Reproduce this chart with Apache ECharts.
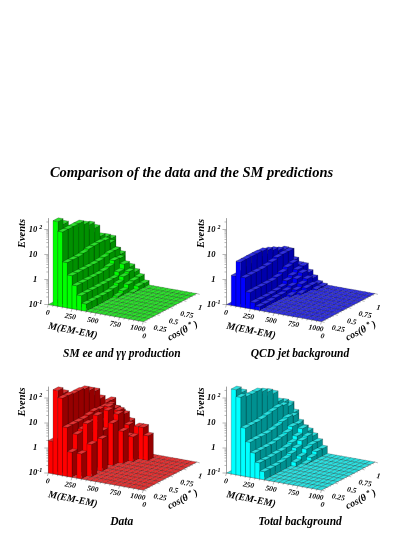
<!DOCTYPE html>
<html><head><meta charset="utf-8">
<style>html,body{margin:0;padding:0;background:#fff;overflow:hidden}#c{width:415px;height:537px}</style>
<script src="https://cdn.jsdelivr.net/npm/echarts@6/dist/echarts.min.js"></script>
</head><body><div id="c"></div>
<script>
const chartTitle = 'Comparison of the data and the SM predictions';
const panelTitles = ['SM ee and γγ production', 'QCD jet background', 'Data', 'Total background'];
const mTicks = [0, 250, 500, 750, 1000];
const cosTicks = [0, 0.25, 0.5, 0.75, 1];
const zMajor = [0.1, 1, 10, 100];
const zMinor = [0.2,0.3,0.4,0.5,0.6,0.7,0.8,0.9,2,3,4,5,6,7,8,9,20,30,40,50,60,70,80,90,200];
const mBinWidth = 50, nM = 20, nC = 10;

// rows: M bin (50 GeV), columns: cos bin (0.1)
const smValues = [
 [0,0,0,0,0,0,0,0,0,0],
 [245,150,75,50,40,25,15,8,5,3],
 [100,100,100,100,71,54,31,11,8,5.4],
 [6.5,6.5,6.5,7,8,8.3,8.5,8,5,2],
 [2.1,2.1,2.1,2.1,2.1,2.2,2.4,2.7,2.7,1.5],
 [0.9,0.9,0.9,0.9,0.9,0.95,1.1,1.5,1.4,0.5],
 [0.39,0.39,0.39,0.39,0.39,0.4,0.4,0.57,0.9,0.54],
 [0.195,0.195,0.195,0.195,0.2,0.22,0.28,0.4,0.48,0.37],
 [0,0,0,0,0,0.12,0.15,0.21,0.23,0.25],
 [0,0,0,0,0,0,0,0.11,0.15,0.15]
];
const qcdValues = [
 [0,0,0,0,0,0,0,0,0,0],
 [1.6,1.6,1.7,1.8,2,2,2,1.8,1.5,1.2],
 [6.3,6.3,6.3,6.3,6,5,4,3,2.5,1.7],
 [1.6,1.6,1.6,1.6,1.7,1.9,2.2,2.3,2.3,0.8],
 [0.45,0.45,0.45,0.45,0.45,0.5,0.6,0.75,0.85,0.56],
 [0.19,0.19,0.19,0.19,0.2,0.22,0.3,0.38,0.5,0.55],
 [0.14,0.14,0.14,0.15,0.15,0.17,0.2,0.3,0.4,0.32],
 [0,0,0,0,0,0.12,0.15,0.2,0.25,0.21],
 [0,0,0,0,0,0,0.12,0.15,0.15,0.135],
 [0,0,0,0,0,0,0,0,0.115,0.115]
];
const dataValues = [
 [2,0,0,0,0,0,0,0,0,0],
 [234,140,70,70,70,40,25,12,6,3],
 [123,120,110,110,100,70,50,20,10,10],
 [9,9,9,9,10,11,10,10,9,5],
 [1,4,5,3,6,8,5,9,7,4],
 [0,0,9,3,6,5,15,7,5,2],
 [1,0,0,16,3,15,6,9,5,2],
 [0,2,0,2,0,5,9,0,2,0],
 [0,0,0,0,0,0,2,1,0,0],
 [0,0,0,0,0,0,0,1,2,0],
 [0,0,0,0,0,0,0,0,2,0],
 [0,0,0,0,0,0,0,0,1,0]
];
const totalValues = [
 [0,0,0,0,0,0,0,0,0,0],
 [250,150,80,55,45,30,18,10,6,3],
 [135,110,105,105,80,60,40,15,11,7],
 [8.5,8.5,8.5,9,10,11,12,11,8,3.5],
 [2.5,2.5,2.5,2.5,2.7,3,3.5,4,3.5,1.5],
 [1,1,1,1,1.1,1.2,1.4,1.9,1.8,1],
 [0.44,0.44,0.44,0.46,0.46,0.5,0.6,0.85,1.3,0.8],
 [0.21,0.21,0.21,0.22,0.25,0.3,0.4,0.6,0.7,0.55],
 [0,0,0,0,0,0.15,0.2,0.3,0.35,0.35],
 [0,0,0,0,0,0,0.11,0.15,0.2,0.2]
];
const panelValues = [smValues, qcdValues, dataValues, totalValues];
const palettes = [
 {front:'#00ff00', side:'#009000', top:'#2ce02c'},
 {front:'#0000ff', side:'#0000ac', top:'#3030e0'},
 {front:'#ff0000', side:'#960000', top:'#e43434'},
 {front:'#00ffff', side:'#009090', top:'#2ce0e0'}
];
const origins = [[48.3,304.5],[226.5,304.5],[48.3,473],[226.5,473]];
const serif = '"Liberation Serif","Times New Roman",serif';
const pxDecade = 25, gridW = 170;
const zMax = 275;
const gridH = pxDecade * Math.log10(zMax / 0.1);
const vM = [95, 17], vC = [53.4, -28];

function proj(api, m, c, z) {
  const dx = m / 1000 * vM[0] + c * vC[0];
  const dy = m / 1000 * vM[1] + c * vC[1];
  const zv = Math.pow(10, Math.log10(z) - dy / pxDecade);
  return api.coord([dx, zv]);
}
function poly(points, fill, stroke, lw) {
  return {type:'polygon', shape:{points}, style:{fill, stroke, lineWidth:lw}, silent:true};
}
function line(a, b) {
  return {type:'line', shape:{x1:a[0],y1:a[1],x2:b[0],y2:b[1]}, style:{stroke:'#888',lineWidth:0.6}, silent:true};
}
function txt(p, s, size, rot, extra) {
  return {type:'text', x:p[0], y:p[1], rotation:rot||0, silent:true,
    style:Object.assign({text:s, fill:'#000', font:'italic bold '+size+'px '+serif, align:'center', verticalAlign:'middle'}, extra||{})};
}
const lab = (sz)=>({fontFamily:serif,fontStyle:'italic',fontWeight:'bold',fontSize:sz,color:'#000'});

const grid=[], xAxis=[], yAxis=[], series=[];
panelValues.forEach((vals, k) => {
  const [ox, oy] = origins[k];
  const pal = palettes[k];
  grid.push({left:ox, top:oy-gridH, width:gridW, height:gridH, containLabel:false});
  xAxis.push({gridIndex:k, type:'value', min:0, max:gridW, show:false});
  yAxis.push({gridIndex:k, type:'log', logBase:10, min:0.1, max:zMax, position:'left',
    splitLine:{show:false}, minorTick:{show:false},
    axisLine:{show:true, lineStyle:{color:'#888',width:0.8}},
    axisTick:{show:false},
    axisLabel:{margin:6, color:'#000', showMaxLabel:false, interval:0,
      formatter:(v)=>{
        const e=Math.round(Math.log10(v));
        if(Math.abs(Math.log10(v)-e)>1e-6) return '';
        if(e===0) return '{n|1}{sp| }';
        if(e===1) return '{n|10}{sp| }';
        return '{n|10}{s|'+e+'}';
      },
      rich:{n:Object.assign(lab(8.5),{lineHeight:11}),s:Object.assign(lab(6),{verticalAlign:'top',lineHeight:8,width:5,align:'right'}),sp:{width:5,fontSize:6}}
    }});
  // axes decoration
  const deco=[];
  zMajor.forEach(z=>deco.push(['zM',z]));
  zMinor.forEach(z=>deco.push(['zm',z]));
  for(let m=0;m<=1000;m+=mBinWidth) deco.push(['m',m]);
  for(let c=0;c<=1.0001;c+=0.05) deco.push(['c',+c.toFixed(2)]);
  mTicks.forEach(m=>deco.push(['ml',m]));
  cosTicks.forEach(c=>deco.push(['cl',c]));
  deco.push(['axes',0]);
  deco.push(['names',0]);
  series.push({type:'custom', xAxisIndex:k, yAxisIndex:k, coordinateSystem:'cartesian2d', clip:false, silent:true, animation:false,
    encode:{x:[],y:[]}, data:deco.map((d,i)=>[i,1]),
    renderItem:(p,api)=>{
      const [kind,v]=deco[p.dataIndex];
      const O=proj(api,0,0,0.1);
      if(kind==='zM'||kind==='zm'){
        const y=api.coord([0,v])[1];
        const l=kind==='zM'?4:2;
        return line([O[0],y],[O[0]-l,y]);
      }
      if(kind==='m'){
        const a=proj(api,v,0,0.1); const l=(v%250===0)?3:1.5;
        return line(a,[a[0]-0.3*l,a[1]+l]);
      }
      if(kind==='c'){
        const a=proj(api,1000,v,0.1); const l=(Math.round(v*100)%25===0)?3:1.5;
        return line(a,[a[0]+l,a[1]+0.3*l]);
      }
      if(kind==='ml'){
        const a=proj(api,v,0,0.1);
        return txt([a[0]-0.5-v/1000*5,a[1]+8.5-v/1000*1.5],String(v),7.5,-0.17);
      }
      if(kind==='cl'){
        const a=proj(api,1000,v,0.1);
        return txt([a[0]+(v===0?1:3.5),a[1]+(v===0?15:14.5)],String(v),7.5,-0.17);
      }
      if(kind==='axes'){
        return {type:'group',children:[
          line(proj(api,0,0,0.1),proj(api,1000,0,0.1)),
          line(proj(api,1000,0,0.1),proj(api,1000,1,0.1))
        ]};
      }
      return {type:'group',children:[
        txt([O[0]+24.5,O[1]+26.5],'M(EM-EM)',10,-0.2),
        txt([O[0]+134.5,O[1]+26.5],'{a|cos(θ}{s|*}{a|)}',10,0.47,{rich:{a:{font:'italic bold 10px '+serif},s:{font:'italic bold 7px '+serif,padding:[0,2,5,2]}}}),
        txt([O[0]-25.6,O[1]-71],'Events',10.5,Math.PI/2),
        txt([O[0]+73.5,O[1]+49.5],panelTitles[k],11.5)
      ]};
    }
  });
  // bars, back to front
  const cells=[];
  for(let i=0;i<nM;i++) for(let j=nC-1;j>=0;j--) cells.push([i,j,(vals[i]&&vals[i][j])||0]);
  series.push({type:'custom', xAxisIndex:k, yAxisIndex:k, coordinateSystem:'cartesian2d', clip:false, silent:true, animation:false,
    encode:{x:[],y:[]}, data:cells,
    renderItem:(p,api)=>{
      const [i,j,v]=cells[p.dataIndex];
      const z=Math.max(v,0.1);
      const m0=i*mBinWidth,m1=m0+mBinWidth,c0=j/nC,c1=(j+1)/nC;
      const edge='rgba(0,0,0,0.42)',lw=0.5;
      const ch=[];
      if(z>0.1){
        ch.push(poly([proj(api,m1,c0,0.1),proj(api,m1,c1,0.1),proj(api,m1,c1,z),proj(api,m1,c0,z)],pal.side,edge,lw));
        ch.push(poly([proj(api,m0,c0,0.1),proj(api,m1,c0,0.1),proj(api,m1,c0,z),proj(api,m0,c0,z)],pal.front,edge,lw));
      }
      ch.push(poly([proj(api,m0,c0,z),proj(api,m1,c0,z),proj(api,m1,c1,z),proj(api,m0,c1,z)],pal.top,edge,lw));
      return {type:'group',children:ch};
    }
  });
});
const chart=echarts.init(document.getElementById('c'),null,{renderer:'canvas'});
chart.setOption({animation:false, backgroundColor:'#fff',
  title:{text:chartTitle,left:186.5,top:161,textAlign:'center',textStyle:{fontFamily:serif,fontStyle:'italic',fontWeight:'bold',fontSize:14.5,color:'#000'}},
  grid,xAxis,yAxis,series});
</script></body></html>
